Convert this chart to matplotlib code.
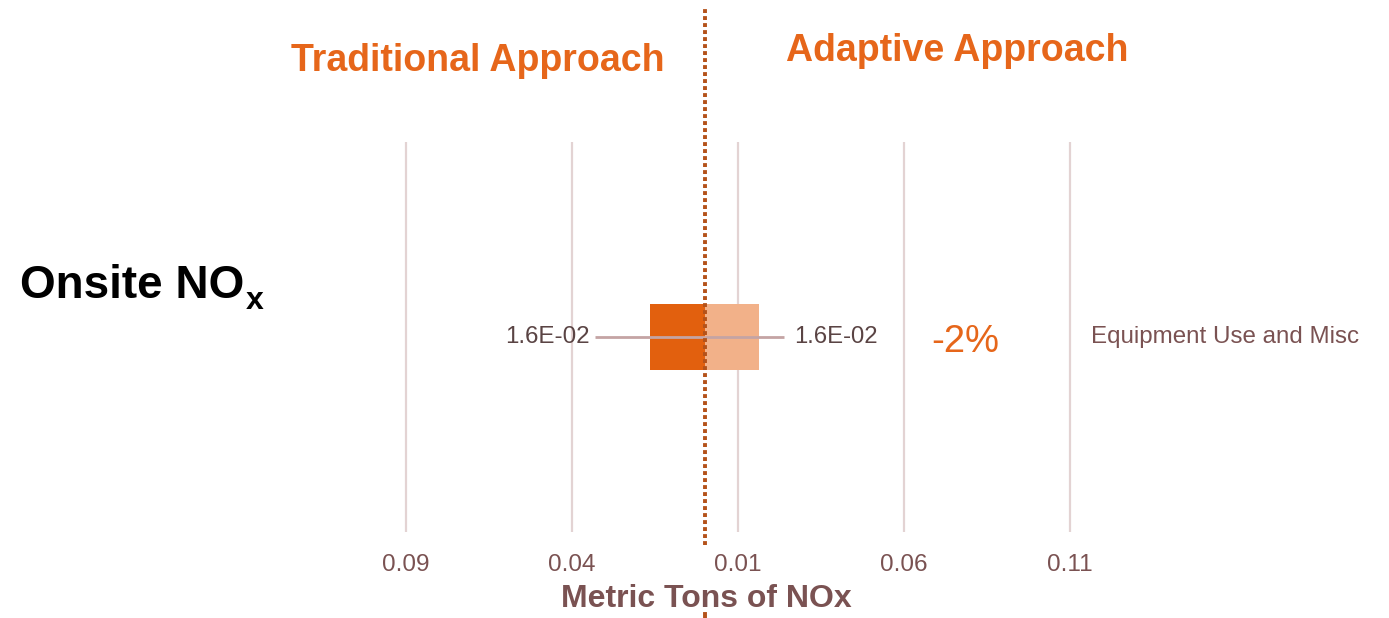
import matplotlib
matplotlib.use("Agg")
import matplotlib.pyplot as plt

# --- data ---------------------------------------------------------------
category = "Equipment Use and Misc"
traditional = [0.0165]          # metric tons NOx, drawn to the left
adaptive = [0.0162]             # metric tons NOx, drawn to the right
pct_change = ["-2%"]
value_labels_left = ["1.6E-02"]
value_labels_right = ["1.6E-02"]
tick_values = [-0.09, -0.04, 0.01, 0.06, 0.11]
tick_labels = ["0.09", "0.04", "0.01", "0.06", "0.11"]

# --- style --------------------------------------------------------------
W, H = 1389, 618
plt.rcParams["font.family"] = ["Liberation Sans", "DejaVu Sans"]
ORANGE = "#E2600E"
PEACH = "#F2B189"
HEAD = "#E6661A"
GRID = "#E3D3D3"
LEADER = "#C4A4A4"
BROWN = "#7A5252"
DARK = "#5A4444"
DOT = "#B4521A"

fig = plt.figure(figsize=(W / 100, H / 100), dpi=100)


def fx(x):
    return x / W


def fy(y):
    return 1 - y / H


# axes placed so that 0 sits at the centre divider
ax_l, ax_r = 380, 1100
ax_t, ax_b = 142, 532
scale = 3320.0  # pixels per metric ton
zero_px = 704.8
ax = fig.add_axes([fx(ax_l), fy(ax_b), (ax_r - ax_l) / W, (ax_b - ax_t) / H])
ax.set_xlim((ax_l - zero_px) / scale, (ax_r - zero_px) / scale)
ax.set_ylim(-1, 1)
for s in ax.spines.values():
    s.set_visible(False)
ax.set_yticks([])
ax.set_xticks(tick_values)
ax.set_xticklabels(tick_labels, fontsize=17.5, color=BROWN)
ax.tick_params(axis="x", length=0, pad=16)
for t in tick_values:
    ax.axvline(t, color=GRID, lw=1.6, zorder=0)

y = [0]
bar_h = 0.34
ax.barh(y, [-v for v in traditional], height=bar_h, color=ORANGE, zorder=2)
ax.barh(y, adaptive, height=bar_h, color=PEACH, zorder=2)

# leader lines and value labels
left_pad, right_pad = 0.0182, 0.0108
for yi, tv, av, ll, rl, pc in zip(y, traditional, adaptive,
                                  value_labels_left, value_labels_right, pct_change):
    lx = -(tv + left_pad)
    rx = av + right_pad
    ax.plot([lx + 0.0017, 0], [yi, yi], color=LEADER, lw=2, zorder=3,
            solid_capstyle="butt")
    ax.plot([0, rx - 0.0030], [yi, yi], color=LEADER, lw=2, zorder=3,
            solid_capstyle="butt")
    ax.text(lx, yi, ll, ha="right", va="center", fontsize=17.4, color=DARK)
    ax.text(rx, yi, rl, ha="left", va="center", fontsize=17.2, color=DARK)
    ax.text(0.0783, yi - 0.025, pc, ha="center", va="center", fontsize=27.5,
            color=HEAD)
    ax.text(0.1163, yi, category, ha="left", va="center", fontsize=17.4,
            color=BROWN, clip_on=False)

# dotted divider, interrupted behind the axis title
span = ax_b - ax_t
ax.axvline(0, ymin=(ax_b - 545) / span, ymax=(ax_b - 8) / span,
           color=DOT, lw=2.8, ls=(0, (1, 0.8)), zorder=4, clip_on=False)
ax.axvline(0, ymin=(ax_b - H) / span, ymax=(ax_b - 614) / span,
           color=DOT, lw=2.8, zorder=4, clip_on=False)

ax.set_xlabel("Metric Tons of NOx", fontsize=23, fontweight="bold",
              color=BROWN)
ax.xaxis.set_label_coords((706 - ax_l) / (ax_r - ax_l), (ax_b - 599) / span)
ax.xaxis.label.set_va("center")

# headers
fig.text(fx(478), fy(61), "Traditional Approach", ha="center", va="center",
         fontsize=27, fontweight="bold", color=HEAD)
fig.text(fx(957), fy(51), "Adaptive Approach", ha="center", va="center",
         fontsize=27, fontweight="bold", color=HEAD)

# row title with subscript
title = fig.text(fx(20), fy(298), "Onsite NO", ha="left", va="baseline",
                 fontsize=33, fontweight="bold", color="black")
fig.canvas.draw()
bb = title.get_window_extent()
fig.text(bb.x1 / W + 2 / W, fy(309), "x", ha="left", va="baseline",
         fontsize=23, fontweight="bold", color="black")

fig.savefig("out.png", dpi=100)
